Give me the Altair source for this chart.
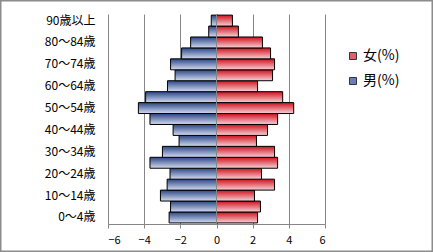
import altair as alt
import pandas as pd

ages = ["0～4歳", "5～9歳", "10～14歳", "15～19歳", "20～24歳", "25～29歳",
        "30～34歳", "35～39歳", "40～44歳", "45～49歳", "50～54歳", "55～59歳",
        "60～64歳", "65～69歳", "70～74歳", "75～79歳", "80～84歳", "85～89歳",
        "90歳以上"]
male = [2.62, 2.54, 3.10, 2.73, 2.57, 3.68, 2.99, 2.07, 2.40, 3.68,
        4.32, 3.92, 2.71, 2.29, 2.54, 1.93, 1.43, 0.43, 0.29]
female = [2.27, 2.43, 2.10, 3.21, 2.49, 3.38, 3.21, 2.21, 2.82, 3.38,
          4.27, 3.66, 2.27, 3.10, 3.21, 2.99, 2.54, 1.21, 0.88]
series = ["女(%)", "男(%)"]
shown_labels = ages[::2]
x_ticks = [-6, -4, -2, 0, 2, 4, 6]

rows = []
for a, m, f in zip(ages, male, female):
    rows.append({"age": a, "sex": series[1], "pct": m})
    rows.append({"age": a, "sex": series[0], "pct": f})
df = pd.DataFrame(rows)

FONT = "Noto Sans CJK JP"
GRID = "#868686"

blue_grad = alt.Gradient(gradient="linear", x1=0, y1=0, x2=0, y2=1,
                         stops=[alt.GradientStop(color="#2a4686", offset=0),
                                alt.GradientStop(color="#d4dbef", offset=1)])
red_grad = alt.Gradient(gradient="linear", x1=0, y1=0, x2=0, y2=1,
                        stops=[alt.GradientStop(color="#d0101c", offset=0),
                               alt.GradientStop(color="#f6d2d6", offset=1)])

x_axis = alt.Axis(values=x_ticks, grid=True, gridColor=GRID,
                  gridWidth=1, domainColor=GRID, tickColor=GRID,
                  tickSize=4, labelPadding=6, labelFont=FONT,
                  labelFontSize=11, labelColor="#000000",
                  labelOverlap=False, labelBound=False)
x_scale = alt.Scale(domain=[-6, 6], nice=False)

y_enc = alt.Y("age:N", sort=list(reversed(ages)), title=None,
              scale=alt.Scale(paddingInner=0.0, paddingOuter=0.1),
              axis=alt.Axis(values=shown_labels, ticks=False, domain=False,
                            grid=False, labelPadding=13, labelFont=FONT,
                            labelFontSize=12, labelColor="#000000"))
x_enc = alt.X("signed:Q", title=None, scale=x_scale, axis=x_axis)
color_enc = alt.Color("sex:N", title=None,
                      scale=alt.Scale(domain=series, range=["#e0606c", "#6a7fb4"]),
                      legend=alt.Legend(orient="none", legendX=238, legendY=35,
                                        symbolType="square", symbolSize=49,
                                        symbolStrokeColor="#333333",
                                        symbolStrokeWidth=1, rowPadding=11,
                                        labelFont=FONT, labelFontSize=14,
                                        labelColor="#000000", labelOffset=3,
                                        padding=0))

base = alt.Chart(df).transform_calculate(
    signed=f"datum.sex === '{series[1]}' ? -datum.pct : datum.pct"
)

male_bars = base.transform_filter(alt.datum.sex == series[1]).mark_bar(
    fill=blue_grad, stroke="#000000", strokeWidth=1
).encode(y=y_enc, x=x_enc, color=color_enc)

female_bars = base.transform_filter(alt.datum.sex == series[0]).mark_bar(
    fill=red_grad, stroke="#000000", strokeWidth=1
).encode(y=y_enc, x=x_enc, color=color_enc)

zero_line = alt.Chart(pd.DataFrame({"signed": [0]})).mark_rule(
    color=GRID, strokeWidth=1
).encode(x=alt.X("signed:Q", title=None, scale=x_scale, axis=x_axis))

frame = alt.Chart(pd.DataFrame({"z": [0]})).mark_rect(
    fill=None, stroke="#8c8c8c", strokeWidth=1.5
).encode(x=alt.value(-107.25), x2=alt.value(324.25),
         y=alt.value(-13.25), y2=alt.value(237.25))

chart = alt.layer(male_bars, female_bars, zero_line, frame).properties(
    width=217, height=210,
    autosize=alt.AutoSizeParams(type="none"),
    padding={"left": 108, "top": 14, "right": 108, "bottom": 28},
    background="#ffffff",
).configure_view(stroke=None).configure_axis(labelOverlap=False)

chart.save("out.html", embed_options={"renderer": "svg", "actions": False})
